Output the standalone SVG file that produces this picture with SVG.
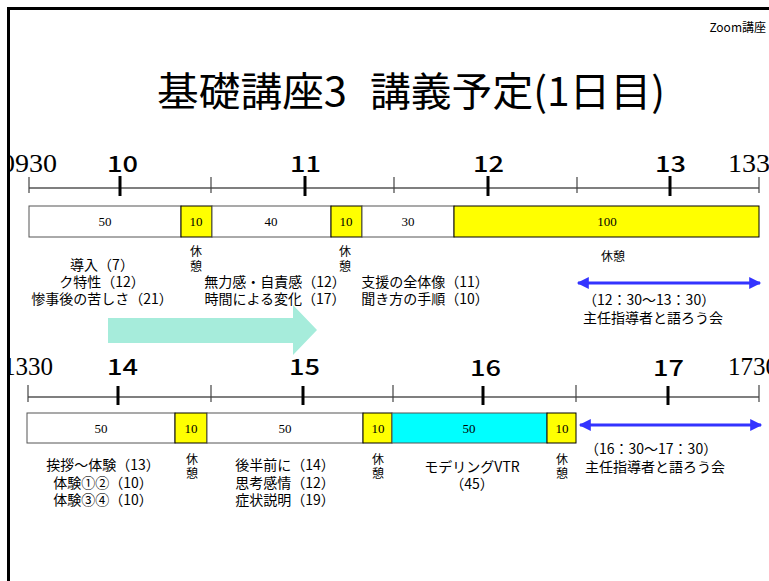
<svg xmlns="http://www.w3.org/2000/svg" width="769" height="581" viewBox="0 0 769 581">
<defs>
<style>
.jp{font-family:"Noto Sans CJK JP","Noto Sans",sans-serif;fill:#000}
.lbl{font-size:14px;text-anchor:middle}
.lft{font-size:14px;text-anchor:start}
.brk{font-size:12px;text-anchor:middle}
.hr{font-family:"Noto Sans CJK JP",sans-serif;font-size:22px;font-weight:500;fill:#000}
.edge{font-family:"Liberation Serif",serif;font-size:25px}
.num{font-family:"Liberation Serif",serif;font-size:13px;text-anchor:middle;fill:#000}
.axis{stroke:#555;stroke-width:1.5;fill:none}
.minor{stroke:#444;stroke-width:1.2}
.major{stroke:#000;stroke-width:3}
.w{fill:#fff;stroke:#555;stroke-width:1}
.y{fill:#ffff00;stroke:#000;stroke-width:1}
.c{fill:#00ffff;stroke:#555;stroke-width:1}
.blue{stroke:#3333ff;stroke-width:3;fill:none}
</style>
<marker id="ah" viewBox="0 0 10 10" refX="9" refY="5" markerWidth="4.5" markerHeight="4" orient="auto-start-reverse" markerUnits="strokeWidth">
<path d="M0,0 L10,5 L0,10 z" fill="#3333ff"/>
</marker>
<clipPath id="page"><rect x="9" y="10" width="760" height="571"/></clipPath>
</defs>
<rect width="769" height="581" fill="#fff"/>
<g clip-path="url(#page)">
<g id="title">
<text class="jp" x="766" y="32" font-size="12" text-anchor="end">Zoom講座</text>
<text class="jp" y="106" font-size="40"><tspan x="157" textLength="190" lengthAdjust="spacingAndGlyphs">基礎講座3</tspan><tspan x="370" textLength="295" lengthAdjust="spacingAndGlyphs">講義予定(1日目)</tspan></text>
</g>
<g id="timeline1">
<line class="axis" x1="29" y1="188" x2="759" y2="188"/>
<line class="minor" x1="29" y1="177" x2="29" y2="193"/>
<line class="minor" x1="211" y1="177" x2="211" y2="193"/>
<line class="minor" x1="394" y1="177" x2="394" y2="193"/>
<line class="minor" x1="577" y1="177" x2="577" y2="193"/>
<line class="minor" x1="759" y1="177" x2="759" y2="193"/>
<line class="major" x1="120" y1="176" x2="120" y2="196"/>
<line class="major" x1="305" y1="176" x2="305" y2="196"/>
<line class="major" x1="488" y1="176" x2="488" y2="196"/>
<line class="major" x1="670" y1="176" x2="670" y2="196"/>
<text class="edge" x="1" y="172" textLength="56" lengthAdjust="spacingAndGlyphs">0930</text>
<text class="edge" x="728" y="172" textLength="56" lengthAdjust="spacingAndGlyphs">1330</text>
<text class="hr" x="107" y="172" textLength="31" lengthAdjust="spacingAndGlyphs">10</text>
<text class="hr" x="290" y="172" textLength="31" lengthAdjust="spacingAndGlyphs">11</text>
<text class="hr" x="473" y="172" textLength="31" lengthAdjust="spacingAndGlyphs">12</text>
<text class="hr" x="655" y="172" textLength="31" lengthAdjust="spacingAndGlyphs">13</text>
</g>
<g id="bar1">
<rect class="w" x="29" y="206" width="152" height="31"/>
<rect class="y" x="181" y="206" width="31" height="31"/>
<rect class="w" x="212" y="206" width="119" height="31"/>
<rect class="y" x="331" y="206" width="31" height="31"/>
<rect class="w" x="362" y="206" width="92" height="31"/>
<rect class="y" x="454" y="206" width="305" height="31"/>
<text class="num" x="105" y="226">50</text>
<text class="num" x="196" y="226">10</text>
<text class="num" x="271" y="226">40</text>
<text class="num" x="346" y="226">10</text>
<text class="num" x="408" y="226">30</text>
<text class="num" x="607" y="226">100</text>
</g>
<g id="labels1">
<text class="jp brk" x="196" y="256">休</text>
<text class="jp brk" x="196" y="271">憩</text>
<text class="jp brk" x="345" y="256">休</text>
<text class="jp brk" x="345" y="271">憩</text>
<text class="jp brk" x="613" y="261">休憩</text>
<text class="jp lbl" x="102" y="270">導入（7）</text>
<text class="jp lbl" x="102" y="287">ク特性（12）</text>
<text class="jp lbl" x="102" y="304">惨事後の苦しさ（21）</text>
<text class="jp lbl" x="275" y="287">無力感・自責感（12）</text>
<text class="jp lbl" x="275" y="304">時間による変化（17）</text>
<text class="jp lbl" x="425" y="287">支援の全体像（11）</text>
<text class="jp lbl" x="425" y="304">聞き方の手順（10）</text>
<text class="jp lft" x="583" y="305">（12：30〜13：30）</text>
<text class="jp lft" x="583" y="323">主任指導者と語ろう会</text>
</g>
<g id="flow-arrow">
<polygon points="108,318 293,318 293,305 317,330 293,355 293,343 108,343" fill="#a6ecdb"/>
</g>
<g id="timeline2">
<line class="axis" x1="28" y1="397" x2="759" y2="397"/>
<line class="minor" x1="28" y1="385" x2="28" y2="402"/>
<line class="minor" x1="211" y1="385" x2="211" y2="402"/>
<line class="minor" x1="393" y1="385" x2="393" y2="402"/>
<line class="minor" x1="576" y1="385" x2="576" y2="402"/>
<line class="minor" x1="759" y1="385" x2="759" y2="402"/>
<line class="major" x1="118" y1="386" x2="118" y2="405"/>
<line class="major" x1="303" y1="386" x2="303" y2="405"/>
<line class="major" x1="483" y1="386" x2="483" y2="405"/>
<line class="major" x1="668" y1="386" x2="668" y2="405"/>
<text class="edge" x="53" y="375" text-anchor="end">1330</text>
<text class="edge" x="728" y="375">1730</text>
<text class="hr" x="107" y="375" textLength="31" lengthAdjust="spacingAndGlyphs">14</text>
<text class="hr" x="289" y="375" textLength="31" lengthAdjust="spacingAndGlyphs">15</text>
<text class="hr" x="470" y="376" textLength="31" lengthAdjust="spacingAndGlyphs">16</text>
<text class="hr" x="653" y="376" textLength="31" lengthAdjust="spacingAndGlyphs">17</text>
</g>
<g id="bar2">
<rect class="w" x="27" y="413" width="148" height="30"/>
<rect class="y" x="175" y="413" width="32" height="30"/>
<rect class="w" x="207" y="413" width="156" height="30"/>
<rect class="y" x="363" y="413" width="29" height="30"/>
<rect class="c" x="392" y="413" width="155" height="30"/>
<rect class="y" x="547" y="413" width="29" height="30"/>
<text class="num" x="101" y="433">50</text>
<text class="num" x="191" y="433">10</text>
<text class="num" x="285" y="433">50</text>
<text class="num" x="378" y="433">10</text>
<text class="num" x="469" y="433">50</text>
<text class="num" x="562" y="433">10</text>
</g>
<g id="labels2">
<text class="jp brk" x="192" y="464">休</text>
<text class="jp brk" x="192" y="478">憩</text>
<text class="jp brk" x="378" y="464">休</text>
<text class="jp brk" x="378" y="478">憩</text>
<text class="jp brk" x="562" y="464">休</text>
<text class="jp brk" x="562" y="478">憩</text>
<text class="jp lbl" x="103" y="470">挨拶～体験（13）</text>
<text class="jp lbl" x="103" y="488">体験①②（10）</text>
<text class="jp lbl" x="103" y="505">体験③④（10）</text>
<text class="jp lbl" x="285" y="470">後半前に（14）</text>
<text class="jp lbl" x="285" y="488">思考感情（12）</text>
<text class="jp lbl" x="285" y="505">症状説明（19）</text>
<text class="jp lbl" x="472" y="472">モデリングVTR</text>
<text class="jp lbl" x="472" y="489">（45）</text>
<text class="jp lft" x="585" y="454">（16：30〜17：30）</text>
<text class="jp lft" x="585" y="472">主任指導者と語ろう会</text>
</g>
<g id="connectors">
<line class="blue" x1="578" y1="283" x2="760" y2="283" marker-start="url(#ah)" marker-end="url(#ah)"/>
<line class="blue" x1="580" y1="425" x2="761" y2="425" marker-start="url(#ah)" marker-end="url(#ah)"/>
</g>
</g>
<path id="frame" d="M8.5,581 V8.5 H769" fill="none" stroke="#000" stroke-width="3"/>
</svg>
